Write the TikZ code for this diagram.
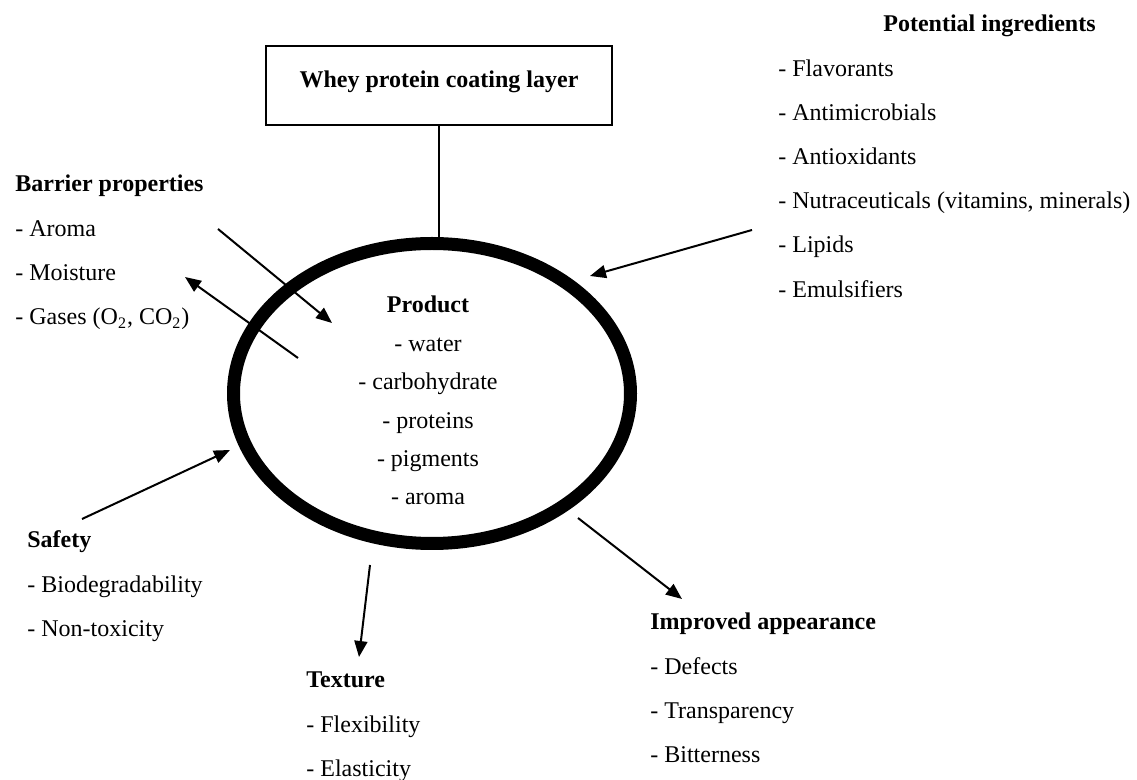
\documentclass[tikz,border=0pt]{standalone}
\usepackage{fontspec}
\setmainfont{Liberation Serif}
\usepackage{tikz}
\usetikzlibrary{arrows.meta,shapes.geometric,calc}

\tikzset{
	head/.style={font=\fontsize{12pt}{14pt}\selectfont\bfseries, anchor=base west, inner sep=0pt},
	item/.style={font=\fontsize{12pt}{14pt}\selectfont, anchor=base west, inner sep=0pt},
	flow/.style={line width=1pt, -{Triangle[length=8pt, width=6.5pt]}},
}

\begin{document}
\begin{tikzpicture}[x=0.5pt, y=-0.5pt]

			\useasboundingbox (0,0) rectangle (1137,780);

			% coating layer box and product
			\node[draw, line width=1pt, minimum width=173pt, minimum height=39.5pt, inner sep=0pt,
				font=\fontsize{12pt}{14pt}\selectfont\bfseries, text height=8pt, text depth=5.5pt]
				(whey) at (439,85.5) {Whey protein coating layer};
			\node[draw, ellipse, line width=6.5pt, minimum width=198.5pt, minimum height=150pt, inner sep=0pt]
				(coat) at (432,393.5) {};
			\draw[line width=1pt] (whey.south) -- (whey.south |- coat.north);

			\node[head, anchor=base] (prod) at (428,313) {Product};
			\foreach \t [count=\i] in {water, carbohydrate, proteins, pigments, aroma}
				\node[item, anchor=base] (prod-\i) at (428,313+38.4*\i) {- \t};

			% Barrier properties
			\node[head] (bar) at (15,192) {Barrier properties};
			\foreach \t [count=\i] in {Aroma, Moisture, {Gases (O\textsubscript{2}, CO\textsubscript{2})}}
				\node[item] (bar-\i) at (15,192+44.3*\i) {- \t};

			% Potential ingredients
			\node[head] (pot) at (883,32) {Potential ingredients};
			\foreach \t [count=\i] in {Flavorants, Antimicrobials, Antioxidants,
					{Nutraceuticals (vitamins, minerals)}, Lipids, Emulsifiers}
				\node[item] (pot-\i) at (778,32+44.2*\i) {- \t};

			% Safety
			\node[head] (safe) at (27,548) {Safety};
			\foreach \t [count=\i] in {Biodegradability, Non-toxicity}
				\node[item] (safe-\i) at (27,548+44.5*\i) {- \t};

			% Texture
			\node[head] (tex) at (306,688) {Texture};
			\foreach \t [count=\i] in {Flexibility, Elasticity}
				\node[item] (tex-\i) at (306,688+44.5*\i) {- \t};

			% Improved appearance
			\node[head] (app) at (650,630) {Improved appearance};
			\foreach \t [count=\i] in {Defects, Transparency, Bitterness}
				\node[item] (app-\i) at (650,630+44.3*\i) {- \t};

			% arrow ends
			\coordinate (aroma-a) at (218,229);   \coordinate (aroma-b) at (332,323);
			\coordinate (moist-a) at (298,358);   \coordinate (moist-b) at (185,277);
			\coordinate (pot-a)   at (752,230);   \coordinate (pot-b)   at (590,276);
			\coordinate (safe-a)  at (82,519);    \coordinate (safe-b)  at (230,450);
			\coordinate (tex-a)   at (370,565);   \coordinate (tex-b)   at (359,657);
			\coordinate (app-a)   at (578,518);   \coordinate (app-b)   at (682,599);

			% Arrows
			\draw[flow] (aroma-a) -- (aroma-b);
			\draw[flow] (moist-a) -- (moist-b);
			\draw[flow] (pot-a) -- (pot-b);
			\draw[flow] (safe-a) -- (safe-b);
			\draw[flow] (tex-a) -- (tex-b);
			\draw[flow] (app-a) -- (app-b);

		\end{tikzpicture}
\end{document}
